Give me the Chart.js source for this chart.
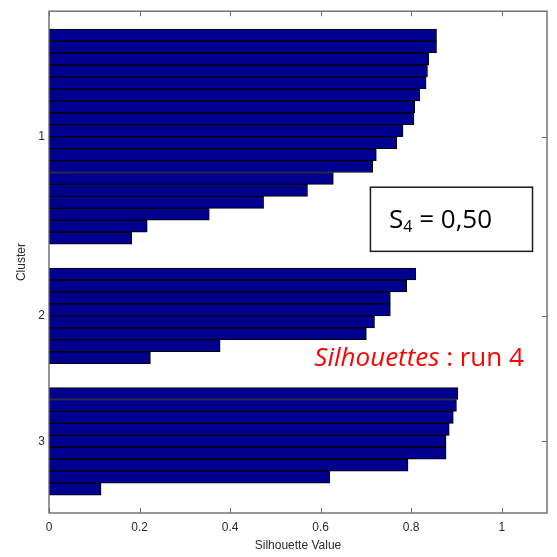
<!DOCTYPE html>
<html>
<head>
<meta charset="utf-8">
<script src="https://cdn.jsdelivr.net/npm/chart.js@4.4.1/dist/chart.umd.min.js"></script>
<style>
  html, body { margin: 0; padding: 0; background: #fff; }
  #wrap { width: 557px; height: 557px; }
</style>
</head>
<body>
<div id="wrap"><canvas id="c" width="557" height="557"></canvas></div>
<script>
// ---- data ----
const clusterNames = ['1', '2', '3'];
const cluster1 = [0.856, 0.856, 0.839, 0.836, 0.833, 0.819, 0.808, 0.806, 0.782, 0.768,
                  0.723, 0.715, 0.628, 0.571, 0.474, 0.354, 0.217, 0.183];
const cluster2 = [0.810, 0.790, 0.754, 0.754, 0.719, 0.701, 0.378, 0.224];
const cluster3 = [0.903, 0.900, 0.893, 0.884, 0.877, 0.877, 0.793, 0.620, 0.115];
const xTickValues = [0, 0.2, 0.4, 0.6, 0.8, 1];
const xTitle = 'Silhouette Value';
const yTitle = 'Cluster';
const scoreLabel = 'S';
const scoreSub = '4';
const scoreValue = ' = 0,50';
const noteItalic = 'Silhouettes';
const noteRest = ' : run 4';

// ---- build bar rows (one slot per sample, 2-slot gap between clusters) ----
const clusters = [cluster1, cluster2, cluster3];
const points = [];
const centers = [];
let slot = 1;
clusters.forEach((vals) => {
  const start = slot;
  vals.forEach((v) => { points.push({ x: v, y: slot }); slot++; });
  centers.push((start + slot - 1) / 2);
  slot += 2;
});

const frameColor = '#6a6a6a';

const framePlugin = {
  id: 'frame',
  afterDraw(chart) {
    const ctx = chart.ctx;
    const { left, right, top, bottom } = chart.chartArea;
    const xs = chart.scales.x, ys = chart.scales.y;
    ctx.save();
    ctx.strokeStyle = frameColor;
    ctx.lineWidth = 1.4;
    ctx.strokeRect(left, top, right - left, bottom - top);
    ctx.lineWidth = 1;
    ctx.beginPath();
    xTickValues.forEach((v) => {
      const px = Math.round(xs.getPixelForValue(v)) + 0.5;
      ctx.moveTo(px, bottom); ctx.lineTo(px, bottom - 5);
      ctx.moveTo(px, top); ctx.lineTo(px, top + 5);
    });
    centers.forEach((c) => {
      const py = Math.round(ys.getPixelForValue(c)) + 0.5;
      ctx.moveTo(right, py); ctx.lineTo(right - 5, py);
    });
    ctx.stroke();

    // score box
    const bx0 = xs.getPixelForValue(0.71), bx1 = xs.getPixelForValue(1.068);
    const by0 = ys.getPixelForValue(13.73), by1 = ys.getPixelForValue(19.1);
    ctx.fillStyle = '#fff';
    ctx.fillRect(bx0, by0, bx1 - bx0, by1 - by0);
    ctx.strokeStyle = '#1a1a1a';
    ctx.lineWidth = 1.5;
    ctx.strokeRect(bx0, by0, bx1 - bx0, by1 - by0);

    ctx.fillStyle = '#000';
    ctx.textBaseline = 'alphabetic';
    ctx.textAlign = 'left';
    let tx = xs.getPixelForValue(0.751);
    const ty = ys.getPixelForValue(17.13);
    ctx.font = '26px "Open Sans"';
    ctx.fillText(scoreLabel, tx, ty);
    tx += ctx.measureText(scoreLabel).width;
    ctx.font = '16px "Open Sans"';
    ctx.fillText(scoreSub, tx, ty + 4);
    tx += ctx.measureText(scoreSub).width;
    ctx.font = '26px "Open Sans"';
    ctx.fillText(scoreValue, tx, ty);

    // red note
    ctx.fillStyle = '#ff0000';
    let nx = xs.getPixelForValue(0.586);
    const ny = ys.getPixelForValue(28.72);
    ctx.font = 'italic 26px "Open Sans"';
    ctx.fillText(noteItalic, nx, ny);
    nx += ctx.measureText(noteItalic).width;
    ctx.font = '26px "Open Sans"';
    ctx.fillText(noteRest, nx, ny);
    ctx.restore();
  }
};

const tickFont = { family: '"Liberation Sans", Arial, sans-serif', size: 12 };

new Chart(document.getElementById('c'), {
  type: 'bar',
  data: {
    datasets: [{
      data: points,
      backgroundColor: 'rgb(0,0,143)',
      borderColor: '#000',
      borderWidth: 1,
      barPercentage: 1,
      categoryPercentage: 1
    }]
  },
  options: {
    indexAxis: 'y',
    responsive: false,
    animation: false,
    devicePixelRatio: 1,
    layout: { padding: { top: 6, right: 10, left: 0, bottom: 0 } },
    plugins: { legend: { display: false }, tooltip: { enabled: false } },
    scales: {
      x: {
        type: 'linear',
        min: 0,
        max: 1.1,
        afterBuildTicks: (s) => { s.ticks = xTickValues.map((v) => ({ value: v })); },
        afterFit: (s) => { s.height = 44; },
        grid: { display: false, drawTicks: false },
        border: { display: false },
        ticks: { font: tickFont, color: '#2a2a2a', padding: 7, maxRotation: 0,
                 callback: (v) => String(v) },
        title: { display: true, text: xTitle, font: tickFont, color: '#2a2a2a',
                 padding: { top: 0, bottom: 4 } }
      },
      y: {
        type: 'linear',
        reverse: true,
        offset: false,
        min: -1,
        max: 41,
        afterBuildTicks: (s) => { s.ticks = centers.map((v) => ({ value: v })); },
        afterFit: (s) => { s.width = 49; },
        grid: { display: false, drawTicks: false, offset: false },
        border: { display: false },
        ticks: { font: tickFont, color: '#2a2a2a', padding: 4,
                 callback: (v, i) => clusterNames[i] },
        title: { display: true, text: yTitle, font: tickFont, color: '#2a2a2a',
                 padding: { top: 14, bottom: 0 } }
      }
    }
  },
  plugins: [framePlugin]
});
</script>
</body>
</html>
